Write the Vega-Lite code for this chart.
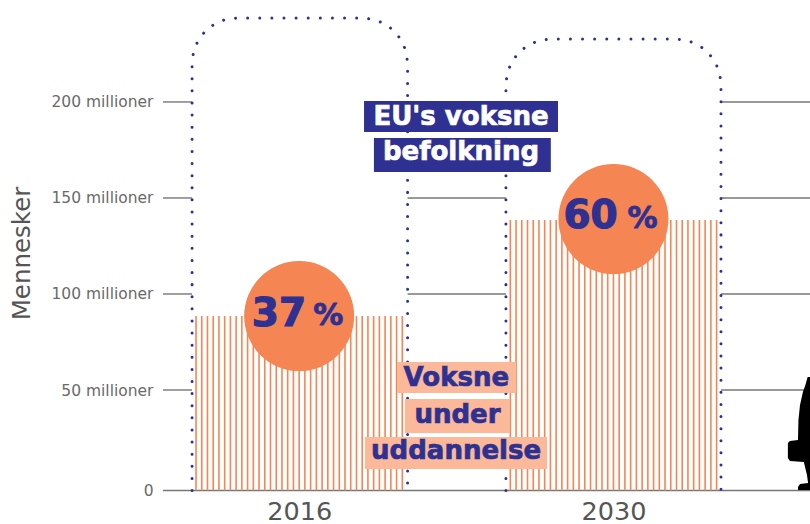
{"$schema":"https://vega.github.io/schema/vega-lite/v6.json","width":647,"height":490.5,"autosize":{"type":"none"},"padding":{"left":163,"top":0,"right":0,"bottom":33.5},"background":"white","config":{"view":{"stroke":null}},
"encoding":{"x":{"field":"aar","type":"quantitative","scale":{"domain":[2009.935,2038.755],"nice":false,"zero":false},"axis":{"title":null,"values":[2016,2030],"format":"d","domain":false,"ticks":false,"grid":false,"labelFontSize":25.5,"labelColor":"#555555","labelFont":"DejaVu Sans","labelPadding":9}},
"y":{"field":"mennesker","type":"quantitative","scale":{"domain":[0,50,253.1],"range":[490.5,390,0],"nice":false,"zero":false},"axis":{"title":"Mennesker","titleFontSize":24.5,"titleFont":"DejaVu Sans","titleFontWeight":"normal","titleColor":"#555555","titleX":-129,"titleY":253,"values":[0,50,100,150,200],"labelExpr":"datum.value==0?'0':datum.value+' millioner'","domain":false,"ticks":false,"grid":false,"labelFontSize":15.5,"labelColor":"#6a6a6a","labelFont":"DejaVu Sans","labelPadding":10}}},
"layer":[
{"data":{"values":[{"aar":2009.935,"aar2":2011.23,"mennesker":50},{"aar":2020.83,"aar2":2025.21,"mennesker":50},{"aar":2034.79,"aar2":2038.755,"mennesker":50},{"aar":2009.935,"aar2":2011.23,"mennesker":100},{"aar":2020.83,"aar2":2025.21,"mennesker":100},{"aar":2034.79,"aar2":2038.755,"mennesker":100},{"aar":2009.935,"aar2":2011.23,"mennesker":150},{"aar":2020.83,"aar2":2025.21,"mennesker":150},{"aar":2034.79,"aar2":2038.755,"mennesker":150},{"aar":2009.935,"aar2":2011.23,"mennesker":200},{"aar":2020.83,"aar2":2025.21,"mennesker":200},{"aar":2034.79,"aar2":2038.755,"mennesker":200},{"aar":2009.935,"aar2":2038.755,"mennesker":0}]},"mark":{"type":"rule","color":"#777777","strokeWidth":1.4},"encoding":{"x2":{"field":"aar2"}}},
{"data":{"values":[{"aar":2011.406,"mennesker":88.5},{"aar":2011.661,"mennesker":88.5},{"aar":2011.916,"mennesker":88.5},{"aar":2012.172,"mennesker":88.5},{"aar":2012.427,"mennesker":88.5},{"aar":2012.682,"mennesker":88.5},{"aar":2012.937,"mennesker":88.5},{"aar":2013.192,"mennesker":88.5},{"aar":2013.447,"mennesker":88.5},{"aar":2013.703,"mennesker":88.5},{"aar":2013.958,"mennesker":88.5},{"aar":2014.213,"mennesker":88.5},{"aar":2014.468,"mennesker":88.5},{"aar":2014.723,"mennesker":88.5},{"aar":2014.979,"mennesker":88.5},{"aar":2015.234,"mennesker":88.5},{"aar":2015.489,"mennesker":88.5},{"aar":2015.745,"mennesker":88.5},{"aar":2016,"mennesker":88.5},{"aar":2016.255,"mennesker":88.5},{"aar":2016.511,"mennesker":88.5},{"aar":2016.766,"mennesker":88.5},{"aar":2017.021,"mennesker":88.5},{"aar":2017.277,"mennesker":88.5},{"aar":2017.532,"mennesker":88.5},{"aar":2017.787,"mennesker":88.5},{"aar":2018.042,"mennesker":88.5},{"aar":2018.297,"mennesker":88.5},{"aar":2018.553,"mennesker":88.5},{"aar":2018.808,"mennesker":88.5},{"aar":2019.063,"mennesker":88.5},{"aar":2019.318,"mennesker":88.5},{"aar":2019.573,"mennesker":88.5},{"aar":2019.828,"mennesker":88.5},{"aar":2020.084,"mennesker":88.5},{"aar":2020.339,"mennesker":88.5},{"aar":2020.594,"mennesker":88.5},
{"aar":2025.406,"mennesker":138.5},{"aar":2025.661,"mennesker":138.5},{"aar":2025.916,"mennesker":138.5},{"aar":2026.172,"mennesker":138.5},{"aar":2026.427,"mennesker":138.5},{"aar":2026.682,"mennesker":138.5},{"aar":2026.937,"mennesker":138.5},{"aar":2027.192,"mennesker":138.5},{"aar":2027.447,"mennesker":138.5},{"aar":2027.703,"mennesker":138.5},{"aar":2027.958,"mennesker":138.5},{"aar":2028.213,"mennesker":138.5},{"aar":2028.468,"mennesker":138.5},{"aar":2028.723,"mennesker":138.5},{"aar":2028.979,"mennesker":138.5},{"aar":2029.234,"mennesker":138.5},{"aar":2029.489,"mennesker":138.5},{"aar":2029.745,"mennesker":138.5},{"aar":2030,"mennesker":138.5},{"aar":2030.255,"mennesker":138.5},{"aar":2030.511,"mennesker":138.5},{"aar":2030.766,"mennesker":138.5},{"aar":2031.021,"mennesker":138.5},{"aar":2031.277,"mennesker":138.5},{"aar":2031.532,"mennesker":138.5},{"aar":2031.787,"mennesker":138.5},{"aar":2032.042,"mennesker":138.5},{"aar":2032.297,"mennesker":138.5},{"aar":2032.553,"mennesker":138.5},{"aar":2032.808,"mennesker":138.5},{"aar":2033.063,"mennesker":138.5},{"aar":2033.318,"mennesker":138.5},{"aar":2033.573,"mennesker":138.5},{"aar":2033.828,"mennesker":138.5},{"aar":2034.084,"mennesker":138.5},{"aar":2034.339,"mennesker":138.5},{"aar":2034.594,"mennesker":138.5}]},"mark":{"type":"rule","color":"#f58553","strokeWidth":1.6},"encoding":{"y2":{"datum":0}}},
{"data":{"values":[
{"boks":"2016","n":1,"aar":2011.23,"mennesker":0},{"boks":"2016","n":2,"aar":2011.23,"mennesker":220.31},{"boks":"2016","n":3,"aar":2011.298,"mennesker":226.38},{"boks":"2016","n":4,"aar":2011.498,"mennesker":232.03},{"boks":"2016","n":5,"aar":2011.816,"mennesker":236.88},{"boks":"2016","n":6,"aar":2012.23,"mennesker":240.61},{"boks":"2016","n":7,"aar":2012.712,"mennesker":242.95},{"boks":"2016","n":8,"aar":2013.23,"mennesker":243.75},{"boks":"2016","n":9,"aar":2018.83,"mennesker":243.75},{"boks":"2016","n":10,"aar":2019.348,"mennesker":242.95},{"boks":"2016","n":11,"aar":2019.83,"mennesker":240.61},{"boks":"2016","n":12,"aar":2020.244,"mennesker":236.88},{"boks":"2016","n":13,"aar":2020.562,"mennesker":232.03},{"boks":"2016","n":14,"aar":2020.762,"mennesker":226.38},{"boks":"2016","n":15,"aar":2020.83,"mennesker":220.31},{"boks":"2016","n":16,"aar":2020.83,"mennesker":0},
{"boks":"2030","n":1,"aar":2025.21,"mennesker":0},{"boks":"2030","n":2,"aar":2025.21,"mennesker":209.36},{"boks":"2030","n":3,"aar":2025.278,"mennesker":215.43},{"boks":"2030","n":4,"aar":2025.478,"mennesker":221.08},{"boks":"2030","n":5,"aar":2025.796,"mennesker":225.93},{"boks":"2030","n":6,"aar":2026.21,"mennesker":229.66},{"boks":"2030","n":7,"aar":2026.692,"mennesker":232},{"boks":"2030","n":8,"aar":2027.21,"mennesker":232.8},{"boks":"2030","n":9,"aar":2032.79,"mennesker":232.8},{"boks":"2030","n":10,"aar":2033.308,"mennesker":232},{"boks":"2030","n":11,"aar":2033.79,"mennesker":229.66},{"boks":"2030","n":12,"aar":2034.204,"mennesker":225.93},{"boks":"2030","n":13,"aar":2034.522,"mennesker":221.08},{"boks":"2030","n":14,"aar":2034.722,"mennesker":215.43},{"boks":"2030","n":15,"aar":2034.79,"mennesker":209.36},{"boks":"2030","n":16,"aar":2034.79,"mennesker":0}]},"mark":{"type":"line","color":"#2e3192","strokeWidth":3,"strokeCap":"round","strokeDash":[0.01,12.1]},"encoding":{"order":{"field":"n","type":"quantitative"},"detail":{"field":"boks"}}},
{"data":{"values":[{"aar":2018.89,"aar2":2027.53,"mennesker":200.5,"mennesker2":184.4,"farve":"navy"},{"aar":2019.33,"aar2":2027.21,"mennesker":181.25,"mennesker2":163.5,"farve":"navy"},{"aar":2020.36,"aar2":2025.66,"mennesker":64.6,"mennesker2":48.5,"farve":"peach"},{"aar":2020.71,"aar2":2025.39,"mennesker":45.5,"mennesker2":28.6,"farve":"peach"},{"aar":2018.93,"aar2":2027.04,"mennesker":26.6,"mennesker2":10.7,"farve":"peach"}]},"mark":{"type":"rect"},"encoding":{"x2":{"field":"aar2"},"y2":{"field":"mennesker2"},"color":{"field":"farve","type":"nominal","scale":{"domain":["navy","peach","hvid","blaa"],"range":["#2e3192","#fbb999","#ffffff","#2e3192"]},"legend":null}}},
{"data":{"values":[{"aar":2023.21,"mennesker":192.2,"tekst":"EU's voksne","farve":"hvid"},{"aar":2023.21,"mennesker":173.96,"tekst":"befolkning","farve":"hvid"},{"aar":2023.0,"mennesker":56.25,"tekst":"Voksne","farve":"blaa"},{"aar":2023.05,"mennesker":37.6,"tekst":"under","farve":"blaa"},{"aar":2022.99,"mennesker":19.65,"tekst":"uddannelse","farve":"blaa"}]},"mark":{"type":"text","font":"DejaVu Sans","fontWeight":"bold","fontSize":26,"baseline":"middle","align":"center","strokeWidth":0.7},"encoding":{"text":{"field":"tekst"},"color":{"field":"farve","type":"nominal","scale":{"domain":["navy","peach","hvid","blaa"],"range":["#2e3192","#fbb999","#ffffff","#2e3192"]},"legend":null},"stroke":{"field":"farve","type":"nominal","scale":{"domain":["navy","peach","hvid","blaa"],"range":["#2e3192","#fbb999","#ffffff","#2e3192"]},"legend":null}}},
{"data":{"values":[{"aar":2016,"mennesker":88.5},{"aar":2030,"mennesker":139}]},"mark":{"type":"point","shape":"circle","filled":true,"size":12100,"opacity":1,"color":"#f58553"}},
{"data":{"values":[{"aar":2015.1,"mennesker":89.6,"tekst":"37"},{"aar":2028.98,"mennesker":140.6,"tekst":"60"}]},"mark":{"type":"text","font":"DejaVu Sans","fontWeight":"bold","fontSize":39,"color":"#2e3192","stroke":"#2e3192","strokeWidth":1.2,"baseline":"middle","align":"center"},"encoding":{"text":{"field":"tekst"}}},
{"data":{"values":[{"aar":2017.3,"mennesker":88.5,"tekst":"%"},{"aar":2031.3,"mennesker":139,"tekst":"%"}]},"mark":{"type":"text","font":"DejaVu Sans","fontWeight":"bold","fontSize":30,"color":"#2e3192","stroke":"#2e3192","strokeWidth":0.8,"baseline":"middle","align":"center"},"encoding":{"text":{"field":"tekst"}}},
{"data":{"values":[{"mennesker":56.8,"aar":2038.65,"aar2":2038.755},{"mennesker":52.6,"aar":2038.55,"aar2":2038.755},{"mennesker":49,"aar":2038.44,"aar2":2038.755},{"mennesker":42.5,"aar":2038.31,"aar2":2038.755},{"mennesker":35,"aar":2038.24,"aar2":2038.755},{"mennesker":25.1,"aar":2038.22,"aar2":2038.755},{"mennesker":24.6,"aar":2037.86,"aar2":2038.755},{"mennesker":23.6,"aar":2037.77,"aar2":2038.755},{"mennesker":16.2,"aar":2037.77,"aar2":2038.755},{"mennesker":14.7,"aar":2037.86,"aar2":2038.755},{"mennesker":14.2,"aar":2038.48,"aar2":2038.755},{"mennesker":7.7,"aar":2038.62,"aar2":2038.755},{"mennesker":3.7,"aar":2038.67,"aar2":2038.755},{"mennesker":3.2,"aar":2038.31,"aar2":2038.755},{"mennesker":1.7,"aar":2038.22,"aar2":2038.755},{"mennesker":0.25,"aar":2038.22,"aar2":2038.755}]},"mark":{"type":"area","orient":"horizontal","color":"#000000"},"encoding":{"x2":{"field":"aar2"}}}
]}
